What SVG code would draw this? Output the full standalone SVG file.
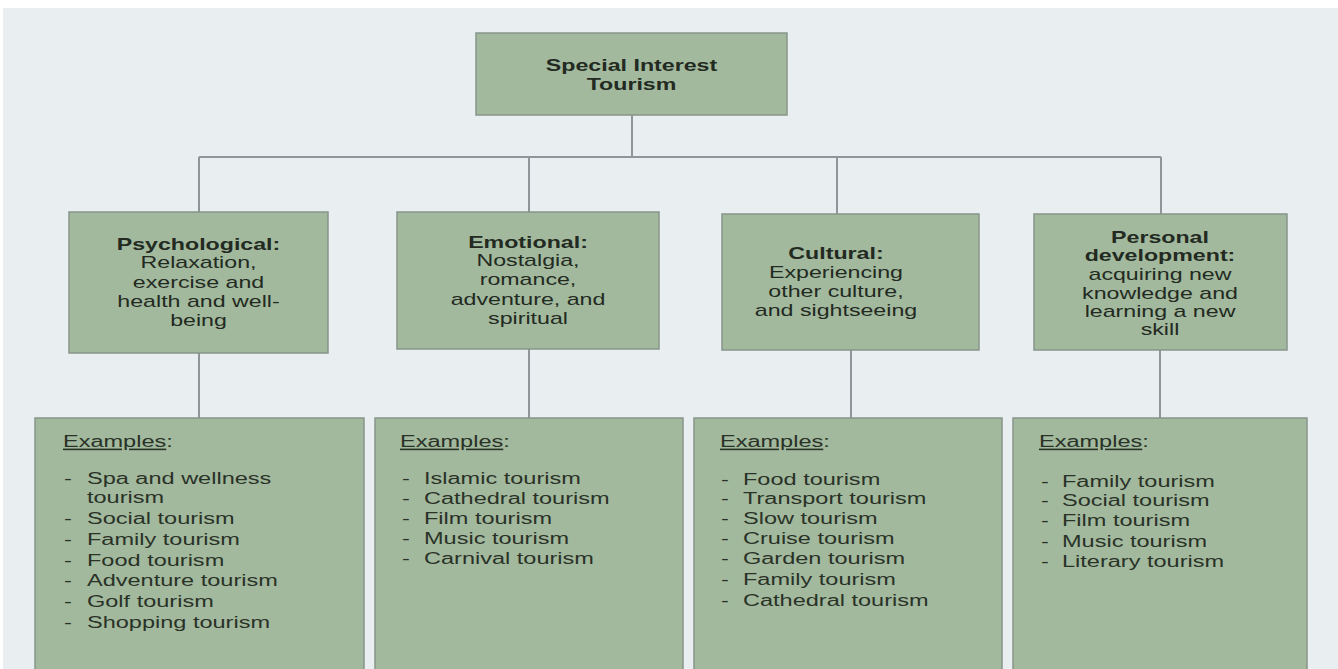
<svg xmlns="http://www.w3.org/2000/svg" width="1338" height="669" viewBox="0 0 1338 669">
<style>
.box{fill:#a2b99d;stroke:#86958a;stroke-width:1.5}
.t{font-family:"Liberation Sans",Arial,sans-serif;font-size:16px;fill:#232a22}
.b{font-weight:bold}
.c{text-anchor:middle}
.l{font-family:"Liberation Sans",Arial,sans-serif;font-size:16px;fill:#2a3228}
.u{text-decoration:underline}
.con{stroke:#8e9699;stroke-width:2;fill:none}
</style>
<rect x="0" y="0" width="1338" height="669" fill="#ffffff"/>
<rect x="3" y="8" width="1335" height="661" fill="#e9eef1"/>
<g id="connectors">
<path class="con" d="M632 115 V157 M199 157 H1161 M199 157 V212 M529 157 V212 M837 157 V214 M1161 157 V214"/>
<path class="con" d="M199 353 V418 M529 349 V418 M851 350 V418 M1160 350 V418"/>
</g>
<g id="root">
<rect class="box" x="476" y="33" width="311" height="82"/>
<text class="t b c" transform="translate(631.5,0) scale(1.45,1)"><tspan x="0" y="71">Special Interest</tspan><tspan x="0" y="90">Tourism</tspan></text>
</g>
<g id="psychological">
<rect class="box" x="69" y="212" width="259" height="141"/>
<text class="t c" transform="translate(198.5,0) scale(1.45,1)"><tspan class="b" x="0" y="250">Psychological:</tspan><tspan x="0" y="268">Relaxation,</tspan><tspan x="0" y="288">exercise and</tspan><tspan x="0" y="307">health and well-</tspan><tspan x="0" y="326">being</tspan></text>
</g>
<g id="emotional">
<rect class="box" x="397" y="212" width="262" height="137"/>
<text class="t c" transform="translate(528,0) scale(1.45,1)"><tspan class="b" x="0" y="248">Emotional:</tspan><tspan x="0" y="266">Nostalgia,</tspan><tspan x="0" y="285">romance,</tspan><tspan x="0" y="305">adventure, and</tspan><tspan x="0" y="324">spiritual</tspan></text>
</g>
<g id="cultural">
<rect class="box" x="722" y="214" width="257" height="136"/>
<text class="t c" transform="translate(836,0) scale(1.45,1)"><tspan class="b" x="0" y="259">Cultural:</tspan><tspan x="0" y="278">Experiencing</tspan><tspan x="0" y="297">other culture,</tspan><tspan x="0" y="316">and sightseeing</tspan></text>
</g>
<g id="personal">
<rect class="box" x="1034" y="214" width="253" height="136"/>
<text class="t c" transform="translate(1160,0) scale(1.45,1)"><tspan class="b" x="0" y="243">Personal</tspan><tspan class="b" x="0" y="261">development:</tspan><tspan x="0" y="280">acquiring new</tspan><tspan x="0" y="299">knowledge and</tspan><tspan x="0" y="317">learning a new</tspan><tspan x="0" y="335">skill</tspan></text>
</g>
<g id="examples-psychological">
<rect class="box" x="35" y="418" width="329" height="260"/>
<text class="l" transform="translate(63,0) scale(1.47,1)"><tspan x="0" y="447"><tspan class="u">Examples</tspan>:</tspan></text>
<text class="l" transform="translate(64,0) scale(1.47,1)"><tspan x="0" y="484">-</tspan><tspan x="0" y="524">-</tspan><tspan x="0" y="545">-</tspan><tspan x="0" y="566">-</tspan><tspan x="0" y="586">-</tspan><tspan x="0" y="607">-</tspan><tspan x="0" y="628">-</tspan></text>
<text class="l" transform="translate(87,0) scale(1.47,1)"><tspan x="0" y="484">Spa and wellness</tspan><tspan x="0" y="503">tourism</tspan><tspan x="0" y="524">Social tourism</tspan><tspan x="0" y="545">Family tourism</tspan><tspan x="0" y="566">Food tourism</tspan><tspan x="0" y="586">Adventure tourism</tspan><tspan x="0" y="607">Golf tourism</tspan><tspan x="0" y="628">Shopping tourism</tspan></text>
</g>
<g id="examples-emotional">
<rect class="box" x="375" y="418" width="308" height="260"/>
<text class="l" transform="translate(400,0) scale(1.47,1)"><tspan x="0" y="447"><tspan class="u">Examples</tspan>:</tspan></text>
<text class="l" transform="translate(402,0) scale(1.47,1)"><tspan x="0" y="484">-</tspan><tspan x="0" y="504">-</tspan><tspan x="0" y="524">-</tspan><tspan x="0" y="544">-</tspan><tspan x="0" y="564">-</tspan></text>
<text class="l" transform="translate(424,0) scale(1.47,1)"><tspan x="0" y="484">Islamic tourism</tspan><tspan x="0" y="504">Cathedral tourism</tspan><tspan x="0" y="524">Film tourism</tspan><tspan x="0" y="544">Music tourism</tspan><tspan x="0" y="564">Carnival tourism</tspan></text>
</g>
<g id="examples-cultural">
<rect class="box" x="694" y="418" width="308" height="260"/>
<text class="l" transform="translate(720,0) scale(1.47,1)"><tspan x="0" y="447"><tspan class="u">Examples</tspan>:</tspan></text>
<text class="l" transform="translate(721,0) scale(1.47,1)"><tspan x="0" y="485">-</tspan><tspan x="0" y="504">-</tspan><tspan x="0" y="524">-</tspan><tspan x="0" y="544">-</tspan><tspan x="0" y="564">-</tspan><tspan x="0" y="585">-</tspan><tspan x="0" y="606">-</tspan></text>
<text class="l" transform="translate(743,0) scale(1.47,1)"><tspan x="0" y="485">Food tourism</tspan><tspan x="0" y="504">Transport tourism</tspan><tspan x="0" y="524">Slow tourism</tspan><tspan x="0" y="544">Cruise tourism</tspan><tspan x="0" y="564">Garden tourism</tspan><tspan x="0" y="585">Family tourism</tspan><tspan x="0" y="606">Cathedral tourism</tspan></text>
</g>
<g id="examples-personal">
<rect class="box" x="1013" y="418" width="294" height="260"/>
<text class="l" transform="translate(1039,0) scale(1.47,1)"><tspan x="0" y="447"><tspan class="u">Examples</tspan>:</tspan></text>
<text class="l" transform="translate(1041,0) scale(1.47,1)"><tspan x="0" y="487">-</tspan><tspan x="0" y="506">-</tspan><tspan x="0" y="526">-</tspan><tspan x="0" y="547">-</tspan><tspan x="0" y="567">-</tspan></text>
<text class="l" transform="translate(1062,0) scale(1.47,1)"><tspan x="0" y="487">Family tourism</tspan><tspan x="0" y="506">Social tourism</tspan><tspan x="0" y="526">Film tourism</tspan><tspan x="0" y="547">Music tourism</tspan><tspan x="0" y="567">Literary tourism</tspan></text>
</g>
</svg>
